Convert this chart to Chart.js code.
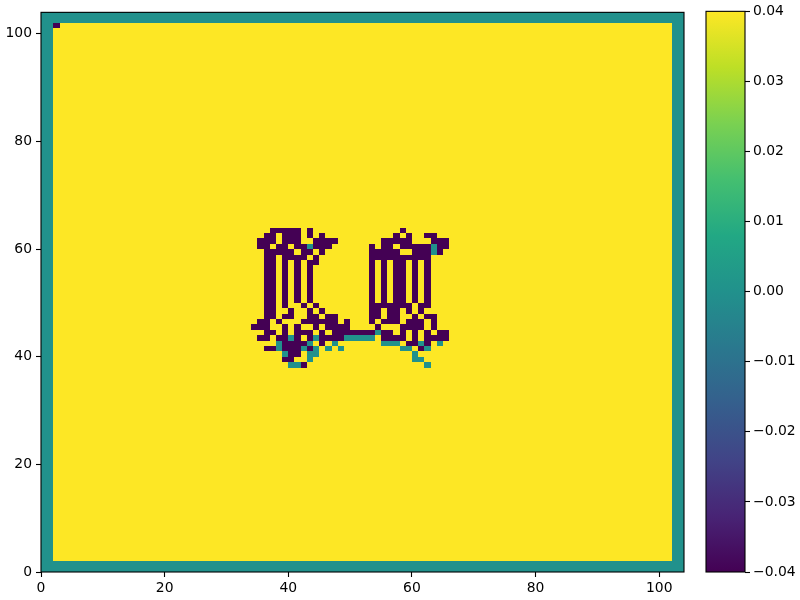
<!DOCTYPE html>
<html>
<head>
<meta charset="utf-8">
<script src="https://cdn.jsdelivr.net/npm/chart.js@4.4.0/dist/chart.umd.min.js"></script>
<style>
html, body { margin: 0; padding: 0; background: #fff; }
#wrap { position: relative; width: 800px; height: 600px; }
#wrap canvas { position: absolute; left: 0; top: 0; }
</style>
</head>
<body>
<div id="wrap">
  <canvas id="heatCanvas" width="800" height="600"></canvas>
  <canvas id="barCanvas" width="800" height="600"></canvas>
</div>
<script>
// grid of 104 x 104 cells
const gridSize = 104;
const borderWidth = 2;      // cells of the teal frame
const borderValue = 0.0;
const fillValue = 0.04;
const symbolValues = { '.': 0.04, '#': -0.04, '+': 0.0 };

// glyph block, first char = column 34, first line = row 64 (going down)
const glyphLeft = 34;
const glyphTop = 64;
const glyphRows = [
  '..................................',
  '...#####.#..............#.........',
  '..##.###.#.#...........#.#..##....',
  '.###.###..####.......#####...###..',
  '.##.##.##+###......#.##.#####+##..',
  '..#####.##.#.......#####..###+#...',
  '..##.####.#........##########.....',
  '..##.#.#.##........#.#.##.#.#.....',
  '..##.#.#.#.........#.#.##.#.#.....',
  '..##.#.#.#.........#.#.##.#.#.....',
  '..##.#.#.#.........#.#.##.#.#.....',
  '..##.#.#.#.........#.#.##.#.#.....',
  '..##.#.#.#.........#.#.##.#.#.....',
  '..##.#.#.#.........#.#.##.#.#.....',
  '..##.#.#.#.........#.#.##.#.#.....',
  '..##.#..#.#........#######.##.....',
  '..##..#..#.#.......##.##.#.#......',
  '..##.##..##.##.....##.##..#.##....',
  '.##.#...######.#...#.###.###.#....',
  '###..#.#..#.####....#...####.#....',
  '..##.#.###.#.#######+##.#.#.#.##..',
  '.##.##+#.#+####+++++.####.#.####..',
  '....+####+.#.+.......+++.##+#.+...',
  '..##+###+#+.+.+.........++.#+.....',
  '.....+##.++...............+.......',
  '.....##..+................++......',
  '......++#...................+.....'
];
// single cells elsewhere: [column, row, value]
const spotCells = [[2, 101, -0.04]];

const axisTicks = [0, 20, 40, 60, 80, 100];
const cbMin = -0.04;
const cbMax = 0.04;
const cbStep = 0.01;

const viridisStops = ['#440154', '#482475', '#414487', '#355f8d', '#2a788e', '#21918c',
                      '#22a884', '#44bf70', '#7ad151', '#bddf26', '#fde725'];

// build the matrix
const cells = [];
for (let r = 0; r < gridSize; r++) {
    const row = [];
    for (let c = 0; c < gridSize; c++) {
        const edge = r < borderWidth || c < borderWidth || r >= gridSize - borderWidth || c >= gridSize - borderWidth;
        row.push(edge ? borderValue : fillValue);
    }
    cells.push(row);
}
glyphRows.forEach((line, i) => {
    [...line].forEach((ch, j) => { cells[glyphTop - i][glyphLeft + j] = symbolValues[ch]; });
});
spotCells.forEach(([c, r, v]) => { cells[r][c] = v; });

function viridis(v) {
    const t = Math.min(1, Math.max(0, (v - cbMin) / (cbMax - cbMin)));
    return viridisStops[Math.round(t * (viridisStops.length - 1))];
}

Chart.defaults.font.family = 'DejaVu Sans';
Chart.defaults.font.size = 13.9;
Chart.defaults.color = '#000';

const frame = {
    id: 'frame',
    afterDatasetsDraw(chart) {
        const { ctx, chartArea: a } = chart;
        ctx.save();
        ctx.strokeStyle = '#000';
        ctx.lineWidth = 1.1;
        ctx.strokeRect(a.left, a.top, a.right - a.left, a.bottom - a.top);
        ctx.restore();
    }
};

const heatCells = {
    id: 'heatCells',
    beforeDatasetsDraw(chart) {
        const { ctx, scales: { x, y } } = chart;
        ctx.save();
        for (let r = 0; r < gridSize; r++) {
            const y0 = Math.round(y.getPixelForValue(r + 1));
            const y1 = Math.round(y.getPixelForValue(r));
            for (let c = 0; c < gridSize; c++) {
                const x0 = Math.round(x.getPixelForValue(c));
                const x1 = Math.round(x.getPixelForValue(c + 1));
                ctx.fillStyle = viridis(cells[r][c]);
                ctx.fillRect(x0, y0, x1 - x0, y1 - y0);
            }
        }
        ctx.restore();
    }
};

const tickGrid = { drawOnChartArea: false, tickLength: 5, tickColor: '#000', tickWidth: 1.1 };

new Chart(document.getElementById('heatCanvas'), {
    type: 'scatter',
    data: { datasets: [{ data: [] }] },
    options: {
        responsive: false,
        animation: false,
        layout: { padding: { left: 0, top: 11, right: 116, bottom: 0 } },
        plugins: { legend: { display: false }, tooltip: { enabled: false } },
        scales: {
            x: {
                type: 'linear', min: 0, max: gridSize,
                afterBuildTicks: s => { s.ticks = axisTicks.map(v => ({ value: v })); },
                afterFit: s => { s.height = 28; },
                ticks: { padding: 3, maxRotation: 0 },
                grid: tickGrid,
                border: { display: false }
            },
            y: {
                type: 'linear', min: 0, max: gridSize,
                afterBuildTicks: s => { s.ticks = axisTicks.map(v => ({ value: v })); },
                afterFit: s => { s.width = 41; },
                ticks: { padding: 4 },
                grid: tickGrid,
                border: { display: false }
            }
        }
    },
    plugins: [heatCells, frame]
});

new Chart(document.getElementById('barCanvas'), {
    type: 'bar',
    data: {
        labels: ['cb'],
        datasets: [{
            data: [[cbMin, cbMax]],
            barPercentage: 1,
            categoryPercentage: 1,
            borderWidth: 0,
            backgroundColor: ctx => {
                const { chart } = ctx;
                const y = chart.scales.y;
                if (!y || !chart.chartArea) return viridisStops[5];
                const p0 = y.getPixelForValue(cbMin);
                const p1 = y.getPixelForValue(cbMax);
                if (!Number.isFinite(p0) || !Number.isFinite(p1)) return viridisStops[5];
                const g = chart.ctx.createLinearGradient(0, p0, 0, p1);
                viridisStops.forEach((col, i) => g.addColorStop(i / (viridisStops.length - 1), col));
                return g;
            }
        }]
    },
    options: {
        responsive: false,
        animation: false,
        layout: { padding: { left: 706, top: 11, right: 0, bottom: 28 } },
        plugins: { legend: { display: false }, tooltip: { enabled: false } },
        scales: {
            x: { display: false },
            y: {
                position: 'right',
                min: cbMin, max: cbMax,
                afterBuildTicks: s => {
                    const list = [];
                    for (let i = 0; i <= Math.round((cbMax - cbMin) / cbStep); i++) list.push({ value: cbMin + i * cbStep });
                    s.ticks = list;
                },
                afterFit: s => { s.width = 55; },
                ticks: {
                    padding: 3,
                    callback: v => (v < -1e-9 ? '\u2212' : '') + Math.abs(v).toFixed(2)
                },
                grid: tickGrid,
                border: { display: false }
            }
        }
    },
    plugins: [frame]
});
</script>
</body>
</html>
